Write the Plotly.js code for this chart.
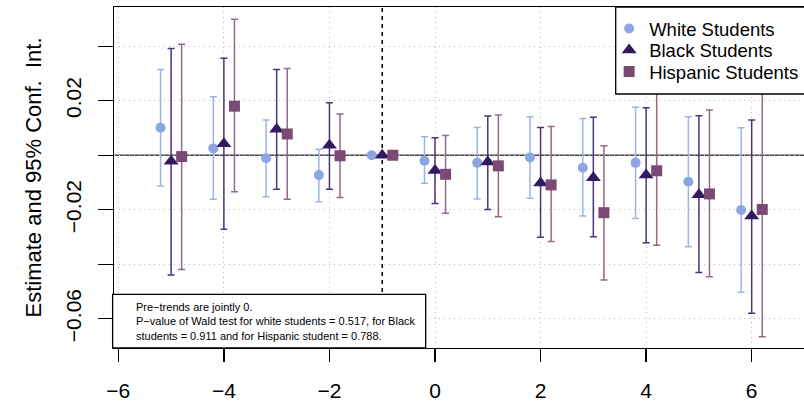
<!DOCTYPE html>
<html>
<head>
<meta charset="utf-8">
<script src="https://cdn.plot.ly/plotly-3.0.1.min.js"></script>
<style>html,body{margin:0;padding:0;background:#fff;}#chart{width:804px;height:401px;}</style>
</head>
<body>
<div id="chart"></div>
<script>
// Event times (years relative to treatment)
const events = [-5, -4, -3, -2, -1, 0, 1, 2, 3, 4, 5, 6];

// White students
const whiteEst = [0.0101, 0.0025, -0.0011, -0.0073, 0, -0.0020, -0.0028, -0.0008, -0.0046, -0.0028, -0.0097, -0.0201];
const whiteLo  = [-0.0113, -0.0162, -0.0152, -0.0171, null, -0.0103, -0.0161, -0.0158, -0.0223, -0.0232, -0.0336, -0.0503];
const whiteHi  = [0.0315, 0.0215, 0.0129, 0.0022, null, 0.0068, 0.0102, 0.0141, 0.0135, 0.0176, 0.0141, 0.0101];

// Black students
const blackEst = [-0.0022, 0.0042, 0.0095, 0.0037, 0, -0.0056, -0.0025, -0.0102, -0.0083, -0.0073, -0.0145, -0.0223];
const blackLo  = [-0.0440, -0.0272, -0.0125, -0.0125, null, -0.0177, -0.0199, -0.0301, -0.0299, -0.0321, -0.0430, -0.0580];
const blackHi  = [0.0392, 0.0356, 0.0315, 0.0193, null, 0.0064, 0.0144, 0.0102, 0.0139, 0.0174, 0.0145, 0.0129];

// Hispanic students
const hispEst = [-0.0005, 0.0180, 0.0078, -0.0002, 0, -0.0070, -0.0039, -0.0109, -0.0211, -0.0057, -0.0142, -0.0199];
const hispLo  = [-0.0419, -0.0134, -0.0162, -0.0155, null, -0.0213, -0.0226, -0.0317, -0.0458, -0.0330, -0.0446, -0.0666];
const hispHi  = [0.0407, 0.0499, 0.0318, 0.0151, null, 0.0072, 0.0148, 0.0105, 0.0035, 0.0240, 0.0166, 0.0270];

const seriesNames = ["White Students", "Black Students", "Hispanic Students"];
const xTickVals = [-6, -4, -2, 0, 2, 4, 6];
const xTickText = ["\u22126", "\u22124", "\u22122", "0", "2", "4", "6"];
const yTickVals = [-0.06, -0.04, -0.02, 0, 0.02, 0.04];
const yTickText = ["\u22120.06", "", "\u22120.02", "", "0.02", ""];
const noteText = "Pre\u2212trends are jointly 0.<br>P\u2212value of Wald test for white students = 0.517, for Black<br>students = 0.911 and for Hispanic student = 0.788.";

const FONT = "Liberation Sans, Arial, Helvetica, sans-serif";

function plus(est, hi) { return est.map((e, i) => hi[i] == null ? NaN : hi[i] - e); }
function minus(est, lo) { return est.map((e, i) => lo[i] == null ? NaN : e - lo[i]); }

function mk(name, leg, offset, est, lo, hi, sym, size, col, errCol) {
  return {
    type: "scatter", mode: "markers", name: name, legend: leg,
    x: events.map(e => e + offset), y: est,
    marker: {symbol: sym, size: size, color: col, line: {width: 0}},
    error_y: {type: "data", symmetric: false, array: plus(est, hi), arrayminus: minus(est, lo),
              color: errCol, thickness: 1.5, width: 3.5}
  };
}

const traces = [
  mk(seriesNames[0], "legend", -0.2, whiteEst, whiteLo, whiteHi, "circle", 10, "#8ca6e2", "#9db3e8"),
  mk(seriesNames[1], "legend2", 0, blackEst, blackLo, blackHi, "triangle-up", 13, "#33195f", "#4a3578"),
  mk(seriesNames[2], "legend3", 0.2, hispEst, hispLo, hispHi, "square", 11, "#7b4a74", "#936a8e")
];

function leg(y) {
  return {x: 0.7176, y: y, xanchor: "left", yanchor: "top", bgcolor: "rgba(0,0,0,0)",
          borderwidth: 0, font: {size: 18.5, family: FONT, color: "#000"}, itemwidth: 30};
}

const layout = {
  width: 804, height: 401,
  margin: {l: 114, r: 0, t: 7, b: 53, autoexpand: false},
  paper_bgcolor: "#fff", plot_bgcolor: "#fff",
  font: {family: FONT, color: "#000"},
  showlegend: true,
  legend: leg(0.9915),
  legend2: leg(0.9285),
  legend3: leg(0.8650),
  xaxis: {range: [-6.082, 6.991], tickvals: xTickVals, ticktext: xTickText,
          ticks: "outside", ticklen: 13, tickwidth: 1.3, tickcolor: "#000",
          tickfont: {size: 21, family: FONT}, ticklabelstandoff: 10,
          showgrid: true, gridcolor: "#b8b8b8", griddash: "1px,4px", gridwidth: 1,
          showline: true, linecolor: "#000", linewidth: 1.3, mirror: true, zeroline: false,
          automargin: false},
  yaxis: {range: [-0.07075, 0.0544], tickvals: yTickVals, ticktext: yTickText,
          ticks: "outside", ticklen: 15, tickwidth: 1.3, tickcolor: "#000",
          tickangle: -90, tickfont: {size: 21, family: FONT}, ticklabelstandoff: 8,
          showgrid: true, gridcolor: "#b8b8b8", griddash: "1px,4px", gridwidth: 1,
          showline: true, linecolor: "#000", linewidth: 1.3, mirror: true, zeroline: false,
          automargin: false,
          title: {text: "Estimate and 95% Conf.  Int.", font: {size: 22, family: FONT}, standoff: 14}},
  shapes: [
    {type: "line", xref: "paper", yref: "y", x0: 0, x1: 1, y0: 0, y1: 0, layer: "below",
     line: {color: "#444", width: 1.5}},
    {type: "line", xref: "x", yref: "paper", x0: -1, x1: -1, y0: 0, y1: 1, layer: "below",
     line: {color: "#000", width: 1.5, dash: "4px,4px"}},
    {type: "rect", xref: "paper", yref: "paper", x0: -0.002, x1: 0.4517, y0: 0, y1: 0.1575, layer: "above",
     fillcolor: "#fff", line: {color: "#000", width: 1.3}},
    {type: "rect", xref: "paper", yref: "paper", x0: 0.7271, x1: 1.01, y0: 0.7449, y1: 1, layer: "above",
     fillcolor: "#fff", line: {color: "#000", width: 1.3}}
  ],
  annotations: [
    {xref: "paper", yref: "paper", x: 0.029, y: 0.078, xanchor: "left", yanchor: "middle",
     align: "left", showarrow: false, text: noteText, font: {size: 11, family: FONT, color: "#000"}}
  ]
};

Plotly.newPlot("chart", traces, layout, {displayModeBar: false, staticPlot: true});
</script>
</body>
</html>
